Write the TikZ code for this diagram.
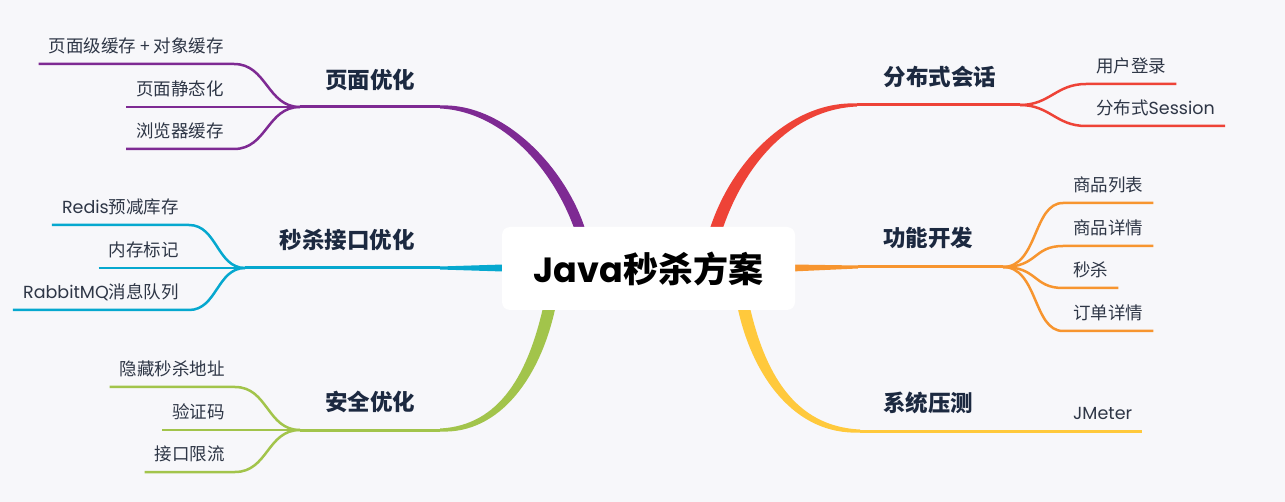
\documentclass[tikz,border=0pt]{standalone}
\usepackage{fontspec}
\setmainfont{Noto Sans CJK SC}
\newfontfamily\lat{Poppins}
\usetikzlibrary{calc}
\definecolor{bg}{HTML}{F7F7FA}
\definecolor{cpur}{HTML}{7E2A93}
\definecolor{ccya}{HTML}{06A8CF}
\definecolor{cgre}{HTML}{A2C44B}
\definecolor{cred}{HTML}{EE4337}
\definecolor{cora}{HTML}{F7952F}
\definecolor{cyel}{HTML}{FFC93C}
\definecolor{ctitle}{HTML}{1C2940}
\definecolor{ctext}{HTML}{2E3646}
\tikzset{
  mainlabel/.style={inner sep=0pt, text=ctitle, font=\fontsize{22.5}{26}\selectfont\bfseries},
  childbase/.style={inner xsep=10pt, inner ysep=0pt, text height=15pt, text depth=11pt, text=ctext, font=\fontsize{17.5}{20}\selectfont},
  leftchild/.style={childbase, anchor=south east},
  rightchild/.style={childbase, anchor=south west},
  mainline/.style={line width=3pt},
  childline/.style={line width=2.5pt},
  rootbox/.style={fill=white, rounded corners=8pt, minimum width=293pt, minimum height=83pt, inner sep=0pt, font=\fontsize{35}{40}\selectfont\bfseries, text=black}
}
\begin{document}
\begin{tikzpicture}[x=1pt,y=-1pt]
\useasboundingbox (0,0) rectangle (1285,502);
\fill[bg] (0,0) rectangle (1285,502);

% junction coordinates
\coordinate (pm) at (440,107);
\coordinate (pj) at (300,107);
\coordinate (cm) at (440,268);
\coordinate (cj) at (245,268);
\coordinate (gm) at (440,430);
\coordinate (gj) at (300,430);
\coordinate (rm) at (857,105);
\coordinate (rj) at (1020,105);
\coordinate (om) at (858,267);
\coordinate (oj) at (1003,267);
\coordinate (ym) at (860,431);

% tapered main branches
\fill[cpur] (586.8,234.6) .. controls (568.7,170.3) and (505,102.5) .. (440,105.5)
  -- (440,108.5) .. controls (505,111.5) and (557.3,173.7) .. (577.2,237.4) -- cycle;
\fill[ccya] (503,264.5) -- (440,266.5) -- (440,269.5) -- (503,271.5) -- cycle;
\fill[cgre] (555.9,305.2) .. controls (541.4,376.3) and (500,434.5) .. (440,431.5)
  -- (440,428.5) .. controls (500,425.5) and (528.6,373.7) .. (544.1,302.8) -- cycle;
\fill[cred] (708.2,234.3) .. controls (728.8,163.2) and (790,100.5) .. (857,103.5)
  -- (857,106.5) .. controls (790,109.5) and (741.2,166.8) .. (719.8,237.7) -- cycle;
\fill[cora] (792,264.5) -- (858,265.5) -- (858,268.5) -- (792,271.5) -- cycle;
\fill[cyel] (737.1,305.2) .. controls (751.6,376.3) and (795,435.5) .. (860,432.5)
  -- (860,429.5) .. controls (795,426.5) and (764.4,373.7) .. (748.9,302.8) -- cycle;

% thin main lines
\draw[cpur, mainline] (pm) -- (pj);
\draw[ccya, mainline] (cm) -- (cj);
\draw[cgre, mainline] (gm) -- (gj);
\draw[cred, mainline] (rm) -- (rj);
\draw[cora, mainline] (om) -- (oj);

% root
\node[rootbox] (root) at (648.5,268.5) {{\lat Java}秒杀方案};

% main labels
\node[mainlabel] (lp) at (370,80) {页面优化};
\node[mainlabel] (lc) at (347,240) {秒杀接口优化};
\node[mainlabel] (lg) at (370,402) {安全优化};
\node[mainlabel] (lr) at (940,77) {分布式会话};
\node[mainlabel] (lo) at (928,238) {功能开发};
\node[mainlabel] (ly) at (928,403) {系统压测};

% purple children
\node[leftchild] (p1) at (234,64) {页面级缓存 + 对象缓存};
\node[leftchild] (p2) at (234,107) {页面静态化};
\node[leftchild] (p3) at (234,149) {浏览器缓存};
\draw[cpur, childline] (p1.south west) -- (p1.south east) .. controls +(33,0) and ($(pj)+(-33,0)$) .. (pj);
\draw[cpur, childline] (p2.south west) -- (pj);
\draw[cpur, childline] (p3.south west) -- (p3.south east) .. controls +(33,0) and ($(pj)+(-33,0)$) .. (pj);

% cyan children
\node[leftchild] (c1) at (189,225) {{\lat Redis}预减库存};
\node[leftchild] (c2) at (189,268) {内存标记};
\node[leftchild] (c3) at (189,310) {{\lat RabbitMQ}消息队列};
\draw[ccya, childline] (c1.south west) -- (c1.south east) .. controls +(28,0) and ($(cj)+(-28,0)$) .. (cj);
\draw[ccya, childline] (c2.south west) -- (cj);
\draw[ccya, childline] (c3.south west) -- (c3.south east) .. controls +(28,0) and ($(cj)+(-28,0)$) .. (cj);

% green children
\node[leftchild] (g1) at (235,387) {隐藏秒杀地址};
\node[leftchild] (g2) at (235,430) {验证码};
\node[leftchild] (g3) at (235,472) {接口限流};
\draw[cgre, childline] (g1.south west) -- (g1.south east) .. controls +(33,0) and ($(gj)+(-33,0)$) .. (gj);
\draw[cgre, childline] (g2.south west) -- (gj);
\draw[cgre, childline] (g3.south west) -- (g3.south east) .. controls +(33,0) and ($(gj)+(-33,0)$) .. (gj);

% red children
\node[rightchild] (r1) at (1086,84) {用户登录};
\node[rightchild] (r2) at (1086,126) {分布式{\lat Session}};
\draw[cred, childline] (rj) .. controls +(30,0) and +(-30,0) .. (r1.south west) -- (r1.south east);
\draw[cred, childline] (rj) .. controls +(30,0) and +(-30,0) .. (r2.south west) -- (r2.south east);

% orange children
\node[rightchild] (o1) at (1063,203) {商品列表};
\node[rightchild] (o2) at (1063,246) {商品详情};
\node[rightchild] (o3) at (1063,288) {秒杀};
\node[rightchild] (o4) at (1063,331) {订单详情};
\draw[cora, childline] (oj) .. controls +(35,0) and +(-30,0) .. (o1.south west) -- (o1.south east);
\draw[cora, childline] (oj) .. controls +(35,0) and +(-30,0) .. (o2.south west) -- (o2.south east);
\draw[cora, childline] (oj) .. controls +(35,0) and +(-30,0) .. (o3.south west) -- (o3.south east);
\draw[cora, childline] (oj) .. controls +(35,0) and +(-30,0) .. (o4.south west) -- (o4.south east);

% yellow child
\node[rightchild] (y1) at (1063,431) {{\lat JMeter}};
\draw[cyel, mainline] (ym) -- (y1.south west) -- (y1.south east);
\end{tikzpicture}
\end{document}
